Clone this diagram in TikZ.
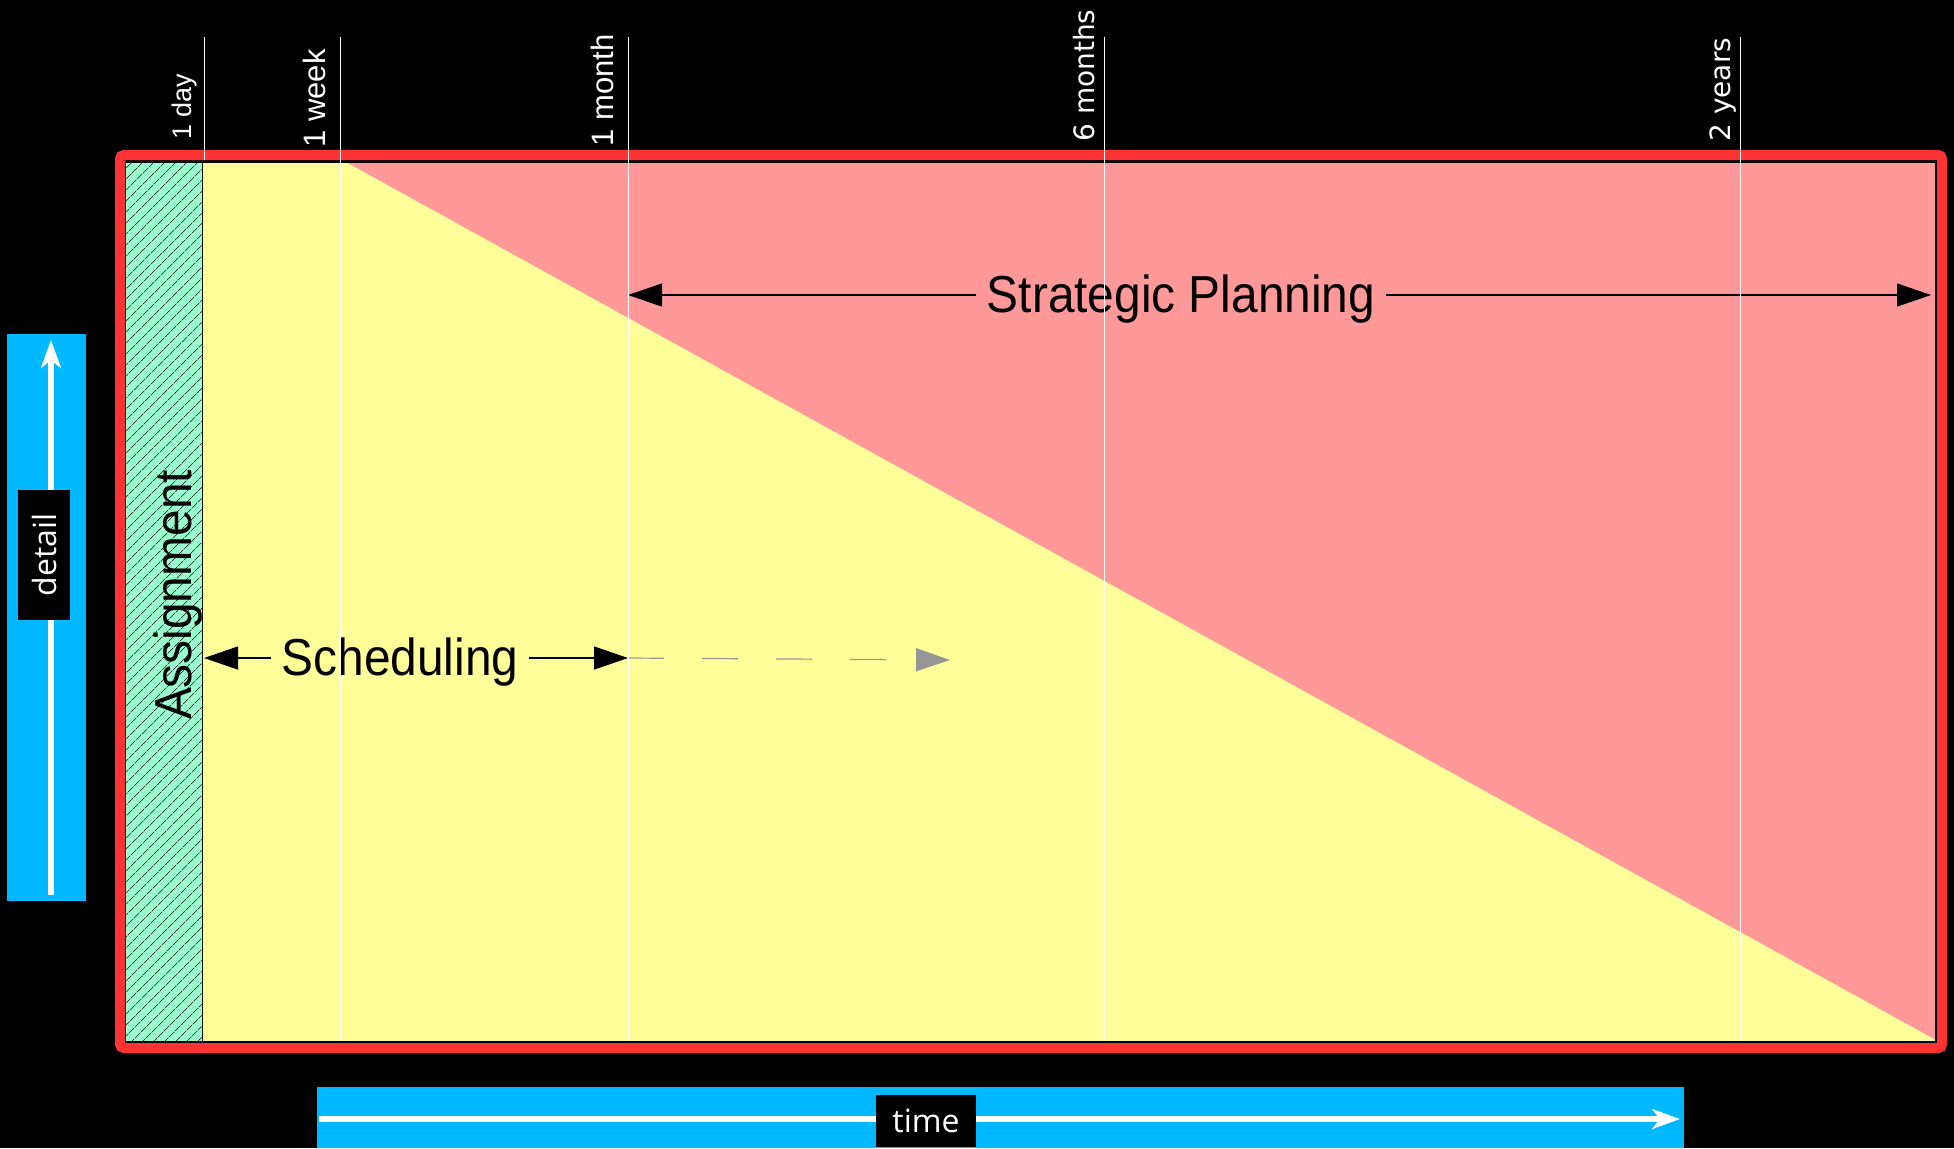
\documentclass[tikz,border=0pt]{standalone}
\usepackage{fontspec}
\setmainfont{Liberation Sans}
\newfontfamily\wideface{DejaVu Sans}
\newfontfamily\axisface{Open Sans}
\newfontfamily\labelface[FakeStretch=0.92]{Liberation Sans}
\usetikzlibrary{arrows.meta,patterns.meta}
\definecolor{framered}{RGB}{255,51,51}
\definecolor{planpink}{RGB}{255,153,153}
\definecolor{schedyellow}{RGB}{255,255,153}
\definecolor{assigngreen}{RGB}{153,255,204}
\definecolor{axisblue}{RGB}{0,184,255}
\definecolor{futuregray}{RGB}{150,150,150}

\begin{document}
\begin{tikzpicture}[x=0.5pt,y=-0.5pt,
tick/.style={white,line width=0.5pt},
ticklabel/.style={white,rotate=90,anchor=base west,inner sep=0pt,font=\fontsize{15.5}{17}\selectfont},
widetick/.style={ticklabel,font=\wideface\fontsize{14}{16}\selectfont},
bigarrow/.style={line width=0.6pt,-{Triangle[length=17pt,width=11.5pt]}},
biglabel/.style={font=\labelface\fontsize{26}{30}\selectfont,inner xsep=5pt},
axisarrow/.style={white,line width=3pt,-{Stealth[length=14pt,width=10pt,inset=4pt]}},
axislabel/.style={fill=black,text=white,font=\axisface\fontsize{16}{18}\selectfont,minimum height=26pt}]
    \fill[black,use as bounding box] (0,0) rectangle (1954,1148);
    \fill[axisblue] (7,334) rectangle (86,901);
    \fill[axisblue] (317,1087) rectangle (1684,1148);
    \coordinate (detail0) at (51,895);
    \coordinate (detail1) at (51,340);
    \coordinate (time0) at (319,1119);
    \coordinate (time1) at (1680,1119);
    \draw[axisarrow] (detail0) -- (detail1);
    \draw[axisarrow] (time0) -- (time1);
    \node[axislabel,rotate=90,minimum width=65pt] (detail) at (44,555) {detail};
    \node[axislabel,minimum width=50pt] (time) at (926,1121) {time};

    \fill[schedyellow] (202,162) rectangle (1936,1042);
    \fill[planpink] (346,162) -- (1936,162) -- (1936,1040) -- cycle;
    \fill[assigngreen] (125,162) rectangle (202,1042);
    \path[pattern={Lines[angle=45,distance=4pt,line width=0.4pt]},pattern color=black!80] (125,162) rectangle (202,1042);
    \draw[line width=0.5pt] (202,162) -- (202,1042);
    \draw[line width=1pt] (125,162) rectangle (1936,1042);
    \draw[framered,line width=5pt,rounded corners=2pt] (120,155) rectangle (1942,1048);

    \node[biglabel,rotate=90,anchor=base] (assign) at (191,595) {Assignment};
    \node[biglabel] (sched) at (400,662) {Scheduling};
    \coordinate (schedL) at (204,658);
    \coordinate (schedR) at (628,658);
    \coordinate (schedF) at (950,660);
    \draw[bigarrow] (sched.west |- schedL) -- (schedL);
    \draw[bigarrow] (sched.east |- schedR) -- (schedR);
    \draw[bigarrow,futuregray,dash pattern=on 18pt off 19pt] (schedR) -- (schedF);
    \node[biglabel] (plan) at (1181,299) {Strategic Planning};
    \coordinate (planL) at (628,295);
    \coordinate (planR) at (1931,295);
    \draw[bigarrow] (plan.west |- planL) -- (planL);
    \draw[bigarrow] (plan.east |- planR) -- (planR);

    \draw[tick] (204,37) -- (204,160);
    \foreach \x in {340,628,1104,1740}
        \draw[tick] (\x,37) -- (\x,1040);
    \node[ticklabel,font=\fontsize{13.5}{15}\selectfont] (day) at (191,140) {1 day};
    \node[ticklabel] (week) at (325,148) {1 week};
    \node[ticklabel] (month) at (613,147) {1 month};
    \node[widetick] (halfyear) at (1094,142) {6 months};
    \node[widetick] (years) at (1730,142) {2 years};
\end{tikzpicture}
\end{document}
